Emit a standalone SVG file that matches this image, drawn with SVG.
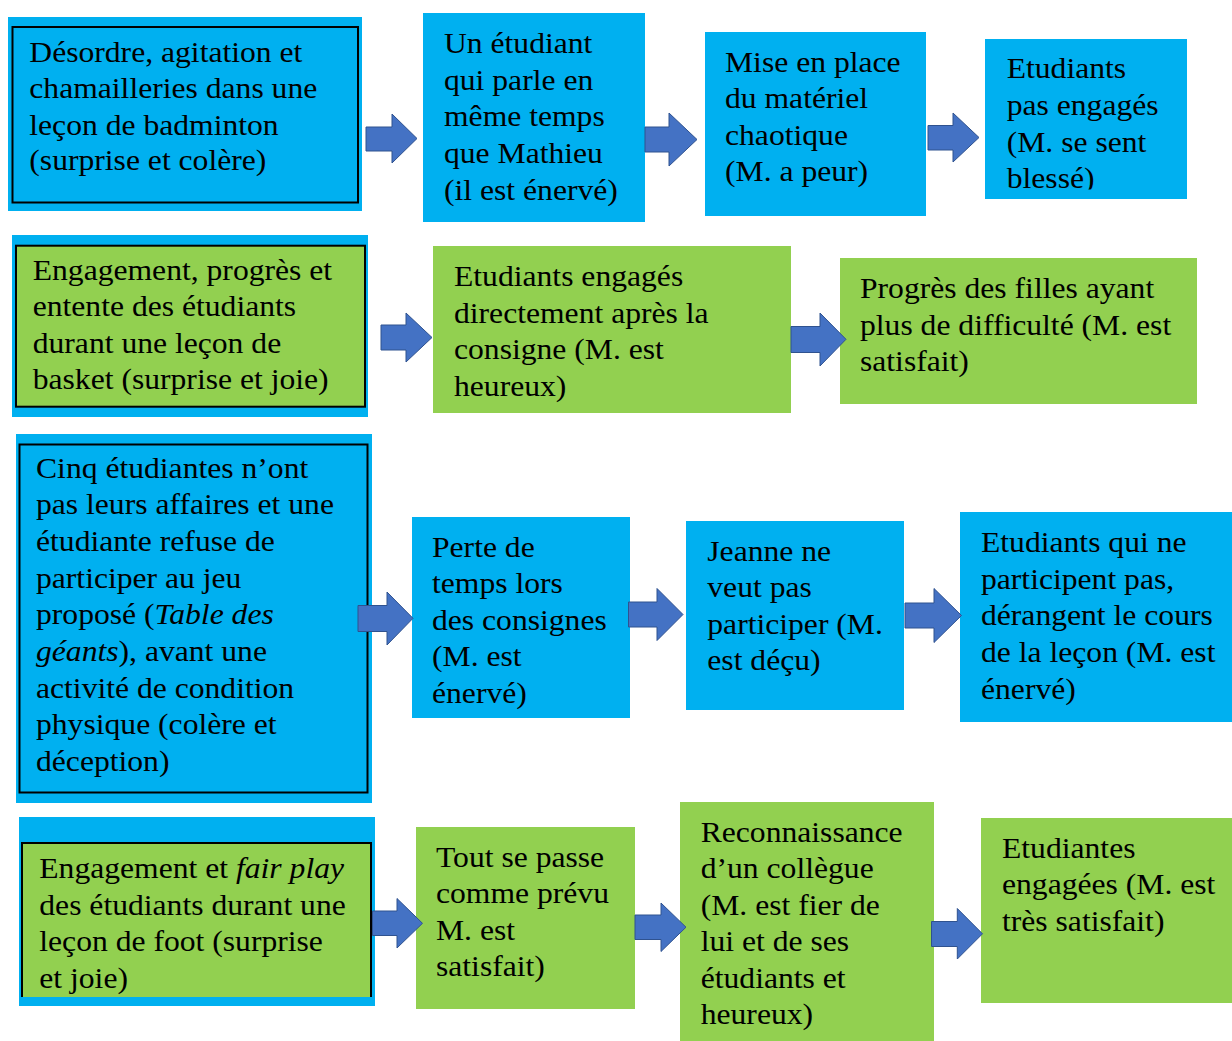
<svg xmlns="http://www.w3.org/2000/svg" width="1232" height="1041" viewBox="0 0 1232 1041">
<style>
.bg{fill:#ffffff}
.blue{fill:#00B0F0}
.green{fill:#92D050}
.frame{fill:none;stroke:#000;stroke-width:2}
.t{font-family:"Liberation Serif","Times New Roman",serif;font-size:28.5px;fill:#000}
.i{font-style:italic}
.arr{fill:#4472C4;stroke:#2F528F;stroke-width:1}
</style>
<defs>
<clipPath id="c4"><rect x="985" y="39" width="202" height="150.5"/></clipPath>
</defs>
<rect class="bg" x="0" y="0" width="1232" height="1041"/>

<g id="n1">
<rect class="blue" x="8" y="17" width="354" height="194"/>
<rect class="frame" x="12.5" y="27" width="345.5" height="175.5"/>
<text class="t" transform="translate(29.3,61.7) scale(1.11,1)"><tspan x="0" y="0">Désordre, agitation et</tspan><tspan x="0" y="36.6">chamailleries dans une</tspan><tspan x="0" y="73.2">leçon de badminton</tspan><tspan x="0" y="108">(surprise et colère)</tspan></text>
</g>
<g id="n2">
<rect class="blue" x="423" y="13" width="222" height="209"/>
<text class="t" transform="translate(444,53) scale(1.11,1)"><tspan x="0" y="0">Un étudiant</tspan><tspan x="0" y="36.7">qui parle en</tspan><tspan x="0" y="73.4">même temps</tspan><tspan x="0" y="110.1">que Mathieu</tspan><tspan x="0" y="146.8">(il est énervé)</tspan></text>
</g>
<g id="n3">
<rect class="blue" x="705" y="32" width="221" height="184"/>
<text class="t" transform="translate(725,72) scale(1.11,1)"><tspan x="0" y="0">Mise en place</tspan><tspan x="0" y="36.5">du matériel</tspan><tspan x="0" y="73">chaotique</tspan><tspan x="0" y="109.5">(M. a peur)</tspan></text>
</g>
<g id="n4">
<rect class="blue" x="985" y="39" width="202" height="160"/>
<g clip-path="url(#c4)">
<text class="t" transform="translate(1006.7,78.3) scale(1.11,1)"><tspan x="0" y="0">Etudiants</tspan><tspan x="0" y="36.7">pas engagés</tspan><tspan x="0" y="73.4">(M. se sent</tspan><tspan x="0" y="110">blessé)</tspan></text>
</g>
</g>

<g id="n5">
<rect class="blue" x="12" y="235" width="356" height="182"/>
<rect class="green" x="16" y="245.7" width="349" height="161"/>
<rect class="frame" x="16" y="245.7" width="349" height="161"/>
<text class="t" transform="translate(32.7,280) scale(1.11,1)"><tspan x="0" y="0">Engagement, progrès et</tspan><tspan x="0" y="36.4">entente des étudiants</tspan><tspan x="0" y="72.8">durant une leçon de</tspan><tspan x="0" y="109">basket (surprise et joie)</tspan></text>
</g>
<g id="n6">
<rect class="green" x="433" y="246" width="358" height="167"/>
<text class="t" transform="translate(454,286) scale(1.11,1)"><tspan x="0" y="0">Etudiants engagés</tspan><tspan x="0" y="36.7">directement après la</tspan><tspan x="0" y="73.4">consigne (M. est</tspan><tspan x="0" y="110.1">heureux)</tspan></text>
</g>
<g id="n7">
<rect class="green" x="840" y="258" width="357" height="146"/>
<text class="t" transform="translate(860,298) scale(1.11,1)"><tspan x="0" y="0">Progrès des filles ayant</tspan><tspan x="0" y="36.7">plus de difficulté (M. est</tspan><tspan x="0" y="73.4">satisfait)</tspan></text>
</g>

<g id="n8">
<rect class="blue" x="16" y="434" width="356" height="369"/>
<rect class="frame" x="19.5" y="444.5" width="348" height="348"/>
<text class="t" transform="translate(36,477.5) scale(1.11,1)"><tspan x="0" y="0">Cinq étudiantes n’ont</tspan><tspan x="0" y="36.7">pas leurs affaires et une</tspan><tspan x="0" y="73.4">étudiante refuse de</tspan><tspan x="0" y="110.1">participer au jeu</tspan><tspan x="0" y="146.8">proposé (<tspan class="i">Table des</tspan></tspan><tspan x="0" y="183.5"><tspan class="i">géants</tspan>), avant une</tspan><tspan x="0" y="220.2">activité de condition</tspan><tspan x="0" y="256.9">physique (colère et</tspan><tspan x="0" y="293.6">déception)</tspan></text>
</g>
<g id="n9">
<rect class="blue" x="412" y="517" width="218" height="201"/>
<text class="t" transform="translate(432,556.5) scale(1.11,1)"><tspan x="0" y="0">Perte de</tspan><tspan x="0" y="36.6">temps lors</tspan><tspan x="0" y="73.2">des consignes</tspan><tspan x="0" y="109.8">(M. est</tspan><tspan x="0" y="146.4">énervé)</tspan></text>
</g>
<g id="n10">
<rect class="blue" x="686" y="521" width="218" height="189"/>
<text class="t" transform="translate(707.3,560.5) scale(1.11,1)"><tspan x="0" y="0">Jeanne ne</tspan><tspan x="0" y="36.6">veut pas</tspan><tspan x="0" y="73.2">participer (M.</tspan><tspan x="0" y="109.8">est déçu)</tspan></text>
</g>
<g id="n11">
<rect class="blue" x="960" y="512" width="272" height="210"/>
<text class="t" transform="translate(981,552) scale(1.11,1)"><tspan x="0" y="0">Etudiants qui ne</tspan><tspan x="0" y="36.7">participent pas,</tspan><tspan x="0" y="73.4">dérangent le cours</tspan><tspan x="0" y="110.1">de la leçon (M. est</tspan><tspan x="0" y="146.8">énervé)</tspan></text>
</g>

<g id="n12">
<rect class="blue" x="19" y="817" width="356" height="189"/>
<rect class="green" x="22" y="843" width="349" height="154"/>
<path class="frame" d="M22,997 V843 H371 V997"/>
<text class="t" transform="translate(39.3,878) scale(1.11,1)"><tspan x="0" y="0">Engagement et <tspan class="i">fair play</tspan></tspan><tspan x="0" y="36.7">des étudiants durant une</tspan><tspan x="0" y="73.4">leçon de foot (surprise</tspan><tspan x="0" y="110">et joie)</tspan></text>
</g>
<g id="n13">
<rect class="green" x="416" y="827" width="219" height="182"/>
<text class="t" transform="translate(436,867) scale(1.11,1)"><tspan x="0" y="0">Tout se passe</tspan><tspan x="0" y="36.5">comme prévu</tspan><tspan x="0" y="73">M. est</tspan><tspan x="0" y="109.5">satisfait)</tspan></text>
</g>
<g id="n14">
<rect class="green" x="680" y="802" width="254" height="239"/>
<text class="t" transform="translate(700.7,842) scale(1.11,1)"><tspan x="0" y="0">Reconnaissance</tspan><tspan x="0" y="36.5">d’un collègue</tspan><tspan x="0" y="73">(M. est fier de</tspan><tspan x="0" y="109.5">lui et de ses</tspan><tspan x="0" y="146">étudiants et</tspan><tspan x="0" y="182.5">heureux)</tspan></text>
</g>
<g id="n15">
<rect class="green" x="981" y="818" width="251" height="185"/>
<text class="t" transform="translate(1002,858) scale(1.11,1)"><tspan x="0" y="0">Etudiantes</tspan><tspan x="0" y="36.5">engagées (M. est</tspan><tspan x="0" y="73">très satisfait)</tspan></text>
</g>

<g id="connectors">
<polygon class="arr" points="366,127 392,127 392,114 417,138.5 392,163 392,151 366,151"/>
<polygon class="arr" points="645,127 669,127 669,113 697,139.5 669,166 669,152 645,152"/>
<polygon class="arr" points="928,125.5 953,125.5 953,113 979,137.5 953,162 953,150 928,150"/>
<polygon class="arr" points="381,325 406,325 406,313 432,337.5 406,362 406,350 381,350"/>
<polygon class="arr" points="791,326.5 820,326.5 820,313 846,339.3 820,366 820,352.5 791,352.5"/>
<polygon class="arr" points="358,605.5 387,605.5 387,592 413,618.3 387,645 387,631.5 358,631.5"/>
<polygon class="arr" points="628.5,602 657,602 657,588.5 683,614.5 657,640.5 657,627 628.5,627"/>
<polygon class="arr" points="905,603 934,603 934,588.5 961.5,615.5 934,642.5 934,628 905,628"/>
<polygon class="arr" points="372.5,911 397,911 397,898.5 422.5,923.3 397,948 397,935.5 372.5,935.5"/>
<polygon class="arr" points="635,915 661,915 661,903 686,927.2 661,951.5 661,939.5 635,939.5"/>
<polygon class="arr" points="931.5,921.5 957.3,921.5 957.3,908.5 982.5,933.8 957.3,959 957.3,946.5 931.5,946.5"/>
</g>
</svg>
